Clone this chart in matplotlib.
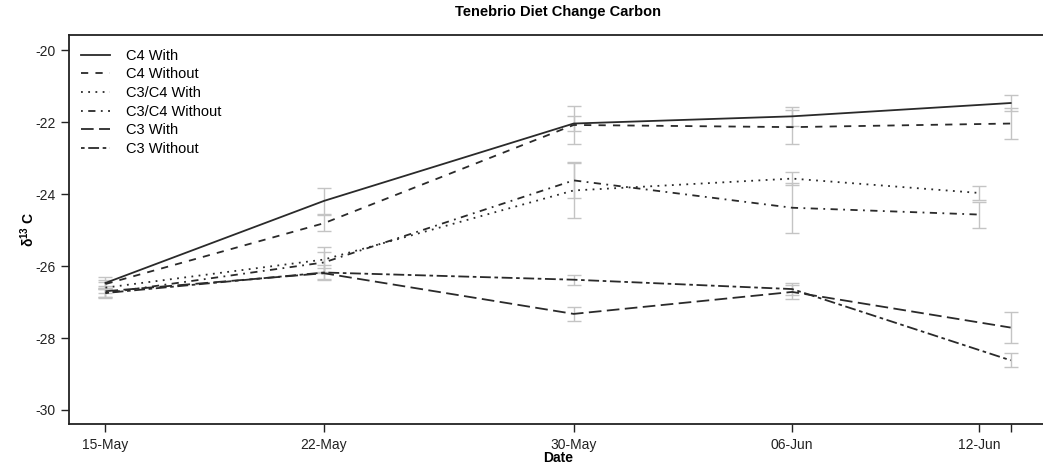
import numpy as np
import matplotlib
matplotlib.use("Agg")
import matplotlib.pyplot as plt

plt.rcParams["font.family"] = ["Liberation Sans", "DejaVu Sans"]

# sampling dates (C3/C4 groups were last sampled a day earlier)
dates_main = np.array(["2019-05-15", "2019-05-22", "2019-05-30", "2019-06-06", "2019-06-13"], dtype="datetime64[D]")
dates_mix = np.array(["2019-05-15", "2019-05-22", "2019-05-30", "2019-06-06", "2019-06-12"], dtype="datetime64[D]")

c4_with = [-26.47, -24.19, -22.04, -21.84, -21.47]
c4_with_se = [0.17, 0.36, 0.21, 0.26, 0.23]
c4_without = [-26.50, -24.81, -22.08, -22.14, -22.04]
c4_without_se = [0.12, 0.23, 0.52, 0.47, 0.43]
mix_with = [-26.60, -25.82, -23.90, -23.57, -23.97]
mix_with_se = [0.15, 0.34, 0.76, 0.17, 0.19]
mix_without = [-26.75, -25.90, -23.62, -24.38, -24.57]
mix_without_se = [0.12, 0.28, 0.50, 0.69, 0.36]
c3_with = [-26.70, -26.20, -27.33, -26.72, -27.71]
c3_with_se = [0.15, 0.15, 0.20, 0.20, 0.44]
c3_without = [-26.75, -26.18, -26.38, -26.64, -28.62]
c3_without_se = [0.15, 0.20, 0.14, 0.17, 0.19]

tick_dates = np.array(["2019-05-15", "2019-05-22", "2019-05-30", "2019-06-06", "2019-06-12", "2019-06-13"], dtype="datetime64[D]")
tick_labels = ["15-May", "22-May", "30-May", "06-Jun", "12-Jun", ""]

series = [
    ("C4 With", dates_main, c4_with, c4_with_se, "-"),
    ("C4 Without", dates_main, c4_without, c4_without_se, (0, (4, 4))),
    ("C3/C4 With", dates_mix, mix_with, mix_with_se, (0, (1, 3))),
    ("C3/C4 Without", dates_mix, mix_without, mix_without_se, (0, (1, 3, 4, 3))),
    ("C3 With", dates_main, c3_with, c3_with_se, (0, (7, 3))),
    ("C3 Without", dates_main, c3_without, c3_without_se, (0, (2, 2, 6, 2))),
]

fig = plt.figure(figsize=(10.43, 4.63), dpi=100)
ax = fig.add_axes([0.0662, 0.0842, 0.9377, 0.8402])

for name, d, v, se, ls in series:
    ax.errorbar(d, v, yerr=se, fmt="none", ecolor="#c4c4c4", elinewidth=1.0,
                capsize=5, capthick=1.0, zorder=1)
    ax.plot(d, v, color="#2a2a2a", linestyle=ls, linewidth=1.3, label=name, zorder=2)

start = np.datetime64("2019-05-15")
ax.set_xlim(start - np.timedelta64(28, "h"), start + np.timedelta64(724, "h"))
ax.set_ylim(-30.39, -19.58)
ax.set_xticks(tick_dates)
ax.set_xticklabels(tick_labels)
ax.set_yticks(np.arange(-30, -19, 2))
ax.set_yticklabels([str(t) for t in range(-30, -19, 2)])
ax.tick_params(direction="out", length=6, width=1, labelsize=10, colors="#222222")
ax.tick_params(axis="x", pad=4)

for s in ax.spines.values():
    s.set_linewidth(1.3)
    s.set_color("#222222")
ax.spines["right"].set_visible(False)

ax.set_title("Tenebrio Diet Change Carbon", fontsize=10.5, fontweight="bold", pad=14)
ax.set_xlabel("Date", fontsize=10, fontweight="bold", labelpad=-1)
ax.set_ylabel(r"$\mathregular{\delta^{13}}$ C", fontsize=10, fontweight="bold", labelpad=-1)

ax.legend(loc="upper left", frameon=False, fontsize=10.5, handlelength=2.0,
          handletextpad=1.1, labelspacing=0.32, borderaxespad=0.4,
          bbox_to_anchor=(0.0, 0.995))

fig.savefig("out.png", dpi=100)
